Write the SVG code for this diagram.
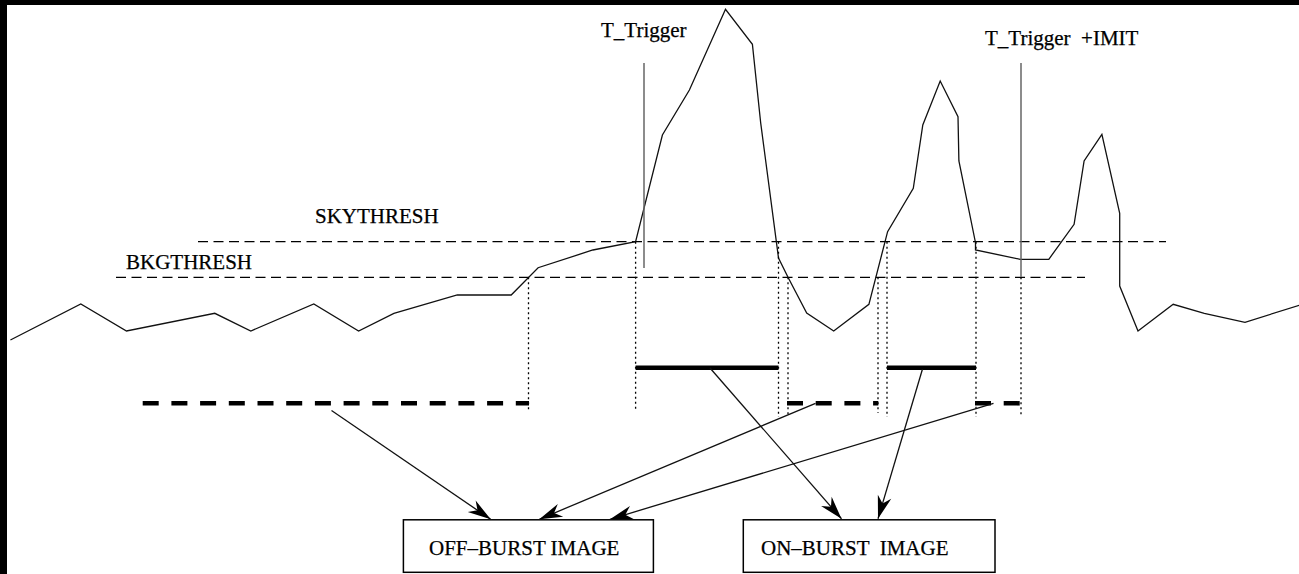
<svg xmlns="http://www.w3.org/2000/svg" width="1299" height="574" viewBox="0 0 1299 574">
<defs>
<marker id="ah" viewBox="-25 -8 27 16" refX="0" refY="0" markerWidth="27" markerHeight="16" markerUnits="userSpaceOnUse" orient="auto">
<path d="M0,0 L-23,-7 L-16,0 L-23,7 Z" fill="#000"/>
</marker>
<style>
text{font-family:"Liberation Serif","Times New Roman",serif;font-size:21px;fill:#000;stroke:#000;stroke-width:0.25;white-space:pre}
.curve{fill:none;stroke:#111;stroke-width:1.3;stroke-linejoin:miter}
.thr{fill:none;stroke:#000;stroke-width:1.2;stroke-dasharray:10 5.5}
.dot{fill:none;stroke:#000;stroke-width:1.3;stroke-dasharray:2 3}
.trig{fill:none;stroke:#666;stroke-width:1.5}
.on{fill:none;stroke:#000;stroke-width:4.5}
.off{fill:none;stroke:#000;stroke-width:4.5;stroke-dasharray:16 12.7}
.box{fill:#fff;stroke:#000;stroke-width:1.5}
.arr{fill:none;stroke:#111;stroke-width:1.3;marker-end:url(#ah)}
</style>
</defs>
<rect x="0" y="0" width="1299" height="574" fill="#fff"/>
<rect x="0" y="0" width="1299" height="5" fill="#000"/>
<rect x="0" y="0" width="7" height="574" fill="#000"/>

<g id="thresholds">
<line class="thr" x1="198" y1="241.7" x2="1166" y2="241.7"/>
<line class="thr" x1="116" y1="277.3" x2="1085" y2="277.3"/>
<text x="315" y="223">SKYTHRESH</text>
<text x="126" y="268.5">BKGTHRESH</text>
</g>

<g id="signal">
<polyline class="curve" points="10.4,340 80.8,304 126.5,331 214.8,313.3 250.8,331 313.8,304 358.6,331 393.9,313.3 457.3,295 511.2,295 538.1,267.7 592.9,250 635.6,241.7 662.4,135 689.4,90 725.5,9.3 752.4,44.3 760.7,123 778.5,258 788,277.3 806.7,313 833.7,331 868.9,304.3 887.6,231.7 913.3,188.3 922.8,125 940.2,81 958,116.7 958.9,161 975.5,242.7 975.5,250 1020.2,259.3 1048.8,259.3 1074.1,224.3 1084.1,161 1101.9,134.3 1119.7,213.3 1119.7,286 1138,331 1173.2,304.3 1204.3,313.3 1245,322.3 1300,305"/>
</g>

<g id="triggers">
<line class="trig" x1="644" y1="63" x2="644" y2="268"/>
<text x="601" y="36.5">T_Trigger</text>
<line class="trig" x1="1021" y1="63" x2="1021" y2="277"/>
<text x="985" y="45">T_Trigger  +IMIT</text>
</g>

<g id="dotted-markers">
<line class="dot" x1="528.5" y1="277.3" x2="528.5" y2="411"/>
<line class="dot" x1="635.6" y1="241.7" x2="635.6" y2="411"/>
<line class="dot" x1="778.5" y1="241.7" x2="778.5" y2="417"/>
<line class="dot" x1="788" y1="277.3" x2="788" y2="417"/>
<line class="dot" x1="878" y1="277.3" x2="878" y2="413"/>
<line class="dot" x1="887" y1="241.7" x2="887" y2="417"/>
<line class="dot" x1="976" y1="241.7" x2="976" y2="417"/>
<line class="dot" x1="1021" y1="277.3" x2="1021" y2="417"/>
</g>

<g id="intervals">
<line class="on" x1="635.6" y1="367.8" x2="778.5" y2="367.8"/>
<line class="on" x1="887" y1="367.8" x2="976" y2="367.8"/>
<line class="off" x1="142.7" y1="403.3" x2="529" y2="403.3"/>
<line class="off" x1="787" y1="403.3" x2="878.3" y2="403.3"/>
<line class="off" x1="975" y1="403.3" x2="1021" y2="403.3"/>
</g>

<g id="off-burst-image">
<rect class="box" x="403.4" y="519.8" width="250" height="52.5"/>
<text x="429" y="555">OFF–BURST IMAGE</text>
</g>

<g id="on-burst-image">
<rect class="box" x="743.3" y="519.8" width="251.7" height="52.5"/>
<text x="761" y="555">ON–BURST  IMAGE</text>
</g>

<g id="connectors">
<line class="arr" x1="331.5" y1="410.5" x2="490.7" y2="519.3"/>
<line class="arr" x1="815.5" y1="403.3" x2="539.3" y2="519.3"/>
<line class="arr" x1="993.5" y1="403.3" x2="610" y2="519.3"/>
<line class="arr" x1="710" y1="368" x2="841.5" y2="518.8"/>
<line class="arr" x1="922.5" y1="369" x2="878" y2="518.8"/>
</g>
</svg>
